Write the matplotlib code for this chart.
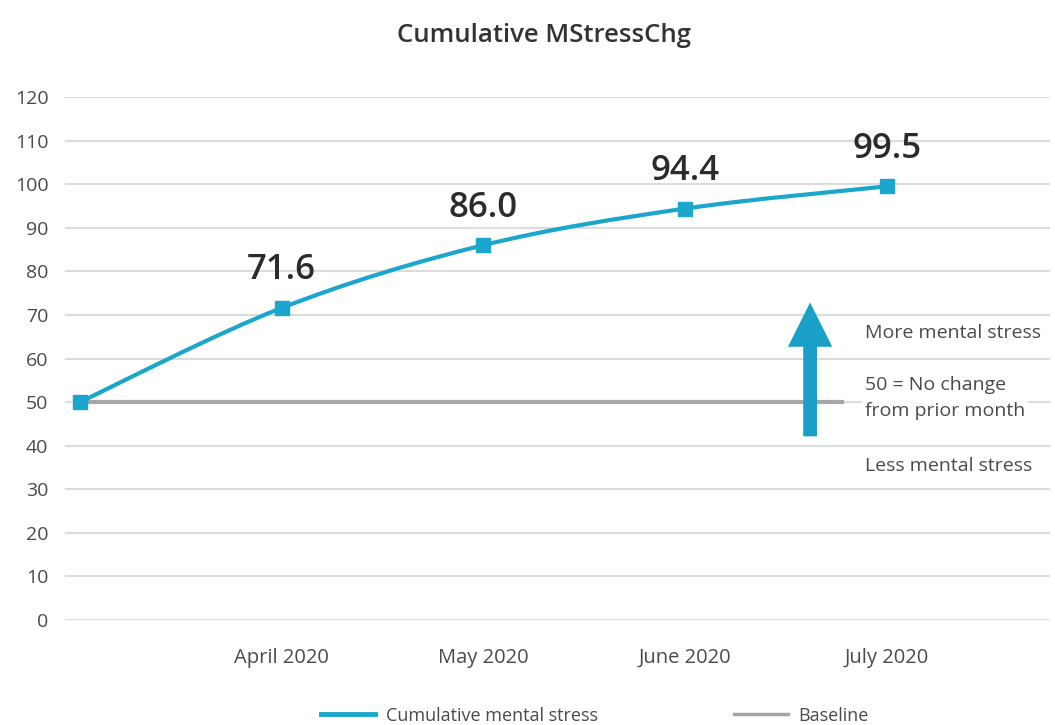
import matplotlib.pyplot as plt
from matplotlib.patches import FancyArrowPatch, PathPatch
from matplotlib.path import Path
from matplotlib.lines import Line2D

plt.rcParams['font.family'] = ['Open Sans', 'DejaVu Sans']

# data
categories = ['', 'April 2020', 'May 2020', 'June 2020', 'July 2020']
stress = [50.0, 71.6, 86.0, 94.4, 99.5]
labels = ['', '71.6', '86.0', '94.4', '99.5']
baseline_x = [0, 3.78]
baseline_y = [50, 50]
yticks = list(range(0, 121, 10))

blue = '#1ba6cc'
gray = '#a6a6a6'
txt = '#4a4a4a'

fig = plt.figure(figsize=(10.55, 7.25), dpi=100)
ax = fig.add_axes([0.0616, 0.1448, 0.9334, 0.7214])

# gridlines
for v in yticks:
    ax.axhline(v, color='#dcdcdc', lw=1.5, zorder=0)

ax.plot(baseline_x, baseline_y, color=gray, lw=3, zorder=2)

# smoothed line (bezier through the points, like excel's smoothed line)
xs = list(range(len(stress)))
pts = list(zip(xs, stress))
verts = [pts[0]]
codes = [Path.MOVETO]
for i in range(len(pts) - 1):
    p0 = pts[i - 1] if i > 0 else pts[i]
    p1, p2 = pts[i], pts[i + 1]
    p3 = pts[i + 2] if i + 2 < len(pts) else pts[i + 1]
    c1 = (p1[0] + (p2[0] - p0[0]) / 6, p1[1] + (p2[1] - p0[1]) / 6)
    c2 = (p2[0] - (p3[0] - p1[0]) / 6, p2[1] - (p3[1] - p1[1]) / 6)
    verts += [c1, c2, p2]
    codes += [Path.CURVE4] * 3
ax.add_patch(PathPatch(Path(verts, codes), facecolor='none', edgecolor=blue, lw=3, zorder=3))
ax.plot(xs, stress, ls='none', marker='s', markersize=10, color=blue, zorder=4)

for i, (v, lab) in enumerate(zip(stress, labels)):
    if lab:
        ax.annotate(lab, (i, v), xytext=(0, 27), textcoords='offset points',
                    ha='center', va='center', fontsize=25, fontweight='semibold',
                    color='#2b2b2b')

# arrow
arr = FancyArrowPatch((3.62, 41.5), (3.62, 73.5),
                      arrowstyle='simple,head_length=1.45,head_width=1.45,tail_width=0.45',
                      mutation_scale=22, color='#1a9fc8', lw=0, zorder=4)
ax.add_patch(arr)

ax.text(3.89, 65.8, 'More mental stress', fontsize=14, color=txt, va='center', ha='left')
ax.text(3.89, 51.0, '50 = No change\nfrom prior month', fontsize=14, color=txt, va='center',
        ha='left', linespacing=1.6, bbox=dict(facecolor='white', edgecolor='none', pad=2))
ax.text(3.89, 35.3, 'Less mental stress', fontsize=14, color=txt, va='center', ha='left')

ax.set_xlim(-0.074, 4.808)
ax.set_ylim(0, 120)
ax.set_xticks(xs)
ax.set_xticklabels(categories, fontsize=14.5, color=txt)
ax.set_yticks(yticks)
ax.set_yticklabels([str(v) for v in yticks], fontsize=14, color=txt)
ax.tick_params(length=0)
ax.tick_params(axis='x', pad=20)
ax.tick_params(axis='y', pad=12)
for s in ax.spines.values():
    s.set_visible(False)

fig.text(0.516, 0.951, 'Cumulative MStressChg', ha='center', va='center',
         fontsize=18.5, fontweight='semibold', color='#333333')

handles = [Line2D([], [], color=blue, lw=3.5), Line2D([], [], color=gray, lw=2.5)]
fig.legend(handles, ['Cumulative mental stress', 'Baseline'], loc='center',
           bbox_to_anchor=(0.564, 0.013), ncol=2, frameon=False, fontsize=13,
           handlelength=3.0, handletextpad=0.6, columnspacing=7.5, labelcolor=txt)

fig.savefig('out.png', dpi=100)
